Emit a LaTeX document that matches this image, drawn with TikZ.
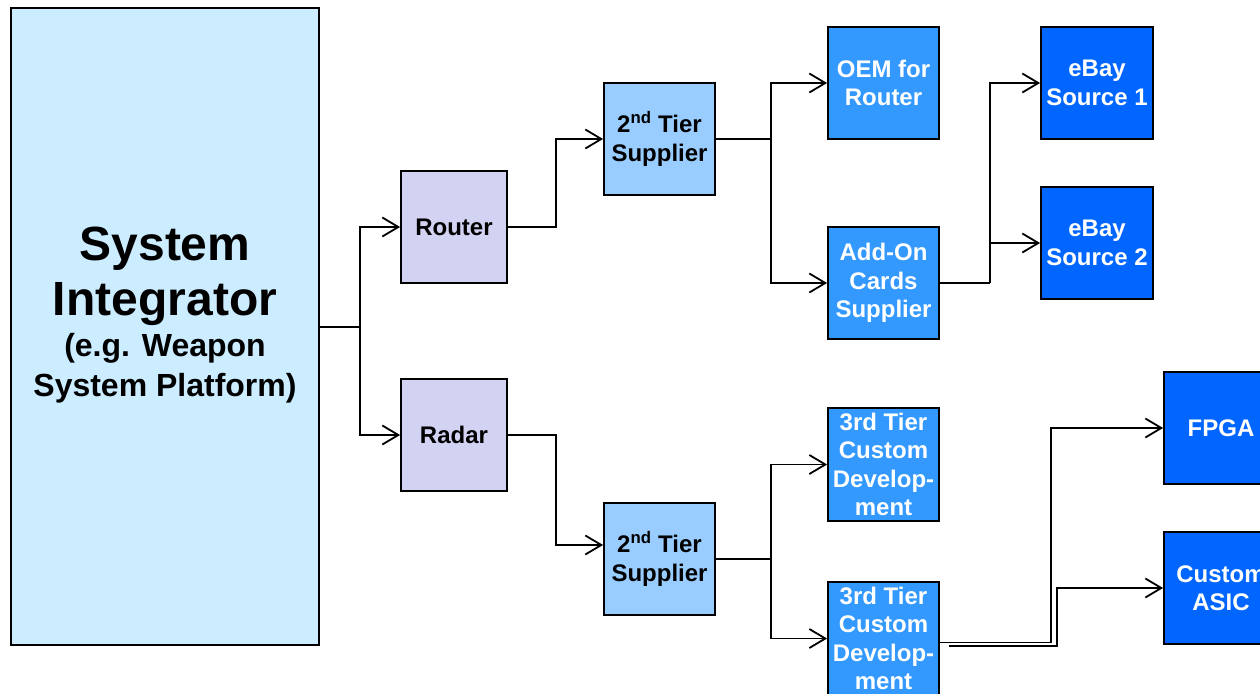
\documentclass[tikz,border=0pt]{standalone}
\usepackage{fontspec}
\setmainfont{Liberation Sans}
\usetikzlibrary{arrows.meta}
\definecolor{sibg}{RGB}{204,236,255}
\definecolor{lav}{RGB}{210,210,242}
\definecolor{tiertwo}{RGB}{153,204,255}
\definecolor{midblue}{RGB}{51,153,255}
\definecolor{deepblue}{RGB}{0,102,255}
\newcommand{\bigln}{\fontsize{48}{57}\selectfont}
\newcommand{\midln}{\fontsize{32}{39}\selectfont}
\begin{document}
\begin{tikzpicture}[x=1pt,y=-1pt,
  box/.style={draw=black,line width=1.8pt,inner sep=0pt,align=center,
    font=\bfseries\fontsize{24}{28.5}\selectfont,
    minimum width=111pt,minimum height=112pt},
  darktext/.style={text=black},
  lighttext/.style={text=white},
  conn/.style={draw=black,line width=1.8pt},
  arr/.style={conn,-{Straight Barb[length=16pt,width=19pt,line width=1.8pt]}}
]
\useasboundingbox (0,0) rectangle (1260,693);
\clip (0,0) rectangle (1260,693);

% nodes
\node[box,fill=sibg,minimum width=308pt,minimum height=637pt] (si) at (165,326.5) {};
\node[align=center,inner sep=0pt,font=\bfseries] (silabel) at (165,315)
  {\bigln System\\[11pt]\bigln Integrator\\[7pt]\midln (e.g. Weapon\\[9pt]\midln System Platform)};

\node[box,fill=lav,darktext,minimum width=106pt] (router) at (454,227) {Router};
\node[box,fill=lav,darktext,minimum width=106pt] (radar) at (454,435) {Radar};

\node[box,fill=tiertwo,darktext] (t2a) at (659.5,139) {2\textsuperscript{nd} Tier\\Supplier};
\node[box,fill=tiertwo,darktext] (t2b) at (659.5,559) {2\textsuperscript{nd} Tier\\Supplier};

\node[box,fill=midblue,lighttext] (oem) at (883.5,83) {OEM for\\Router};
\node[box,fill=midblue,lighttext] (addon) at (883.5,283) {Add-On\\Cards\\Supplier};
\node[box,fill=midblue,lighttext,minimum height=113pt] (t3a) at (883.5,464.5) {3rd Tier\\Custom\\Develop-\\ment};
\node[box,fill=midblue,lighttext,minimum height=113pt] (t3b) at (883.5,638.5) {3rd Tier\\Custom\\Develop-\\ment};

\node[box,fill=deepblue,lighttext,minimum width=112pt] (ebay1) at (1097,83) {eBay\\Source 1};
\node[box,fill=deepblue,lighttext,minimum width=112pt] (ebay2) at (1097,243) {eBay\\Source 2};

\node[box,fill=deepblue,lighttext,minimum width=114pt] (fpga) at (1221,428) {FPGA};
\node[box,fill=deepblue,lighttext,minimum width=114pt] (asic) at (1221,588) {Custom\\ASIC};

% junction coordinates
\coordinate (j1) at (360,327);
\coordinate (j2) at (556,0);
\coordinate (j3) at (771,139);
\coordinate (j4) at (990,283);
\coordinate (j5) at (771,559);
\coordinate (j6) at (1051,0);
\coordinate (j7) at (1057,0);
\coordinate (s7) at (949,646);

% connectors
\draw[conn] (si.east |- j1) -- (j1);
\draw[arr] (j1) |- (router.west);
\draw[arr] (j1) |- (radar.west);

\draw[arr] (router.east) -- (router.east -| j2) |- (t2a.west);
\draw[arr] (radar.east) -- (radar.east -| j2) |- ([yshift=14pt]t2b.west);

\draw[conn] (t2a.east) -- (j3);
\draw[arr] (j3) |- (oem.west);
\draw[arr] (j3) |- (addon.west);

\draw[conn] (addon.east) -- (j4);
\draw[arr] (j4) |- (ebay1.west);
\draw[arr] (j4 |- ebay2.west) -- (ebay2.west);

\draw[conn] (t2b.east) -- (j5);
\draw[arr] (j5) |- (t3a.west);
\draw[arr] (j5) |- (t3b.west);

\draw[arr] ([yshift=-4pt]t3b.east) -- ([yshift=-4pt]t3b.east -| j6) |- (fpga.west);
\draw[arr] (s7) -- (s7 -| j7) |- (asic.west);
\end{tikzpicture}
\end{document}
